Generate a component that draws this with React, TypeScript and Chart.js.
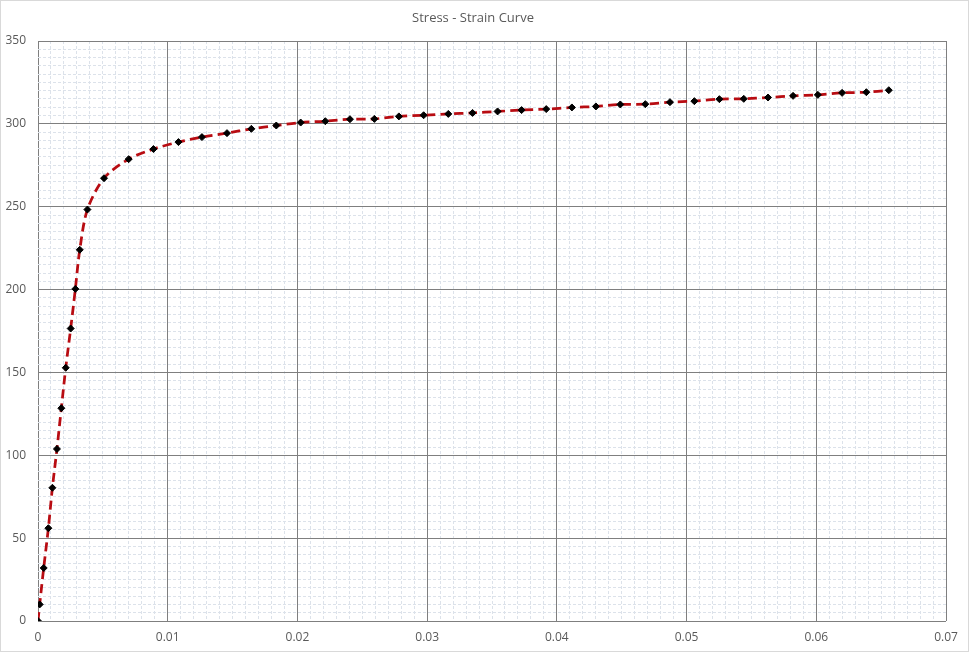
import { useEffect, useRef } from "react";
import { Chart, registerables } from "chart.js";

Chart.register(...registerables);

const chartTitle = "Stress - Strain Curve";

const strain = [
  0, 0.00013, 0.00044, 0.0008, 0.00111, 0.00146, 0.0018, 0.00214, 0.00252, 0.00288,
  0.00322, 0.00381, 0.00509, 0.00699, 0.0089, 0.01083, 0.01264, 0.01457, 0.01645, 0.01837,
  0.02025, 0.02215, 0.02405, 0.02593, 0.02782, 0.02973, 0.03163, 0.0335, 0.03543, 0.03728,
  0.03918, 0.04116, 0.04301, 0.04489, 0.04682, 0.04872, 0.0506, 0.05253, 0.05441, 0.05628,
  0.05821, 0.06012, 0.06199, 0.06386, 0.06559,
];

const stress = [
  0, 10, 32, 56, 80.4, 103.8, 128.4, 152.8, 176.5, 200.4,
  224, 248.3, 267.2, 278.7, 284.8, 289, 292, 294.4, 297, 299,
  300.8, 301.6, 302.8, 303, 304.5, 305.2, 306, 306.6, 307.5, 308.3,
  308.9, 309.9, 310.5, 311.7, 311.9, 313.1, 313.7, 314.9, 315.1, 315.9,
  316.9, 317.5, 318.7, 319.1, 320.3,
];

const xMin = 0;
const xMax = 0.07;
const xMajorStep = 0.01;
const xMinorStep = 0.001;

const yMin = 0;
const yMax = 350;
const yMajorStep = 50;
const yMinorStep = 5;

const isMajor = (v: number, step: number) => Math.abs(v / step - Math.round(v / step)) < 1e-6;

const MAJOR_GRID = "#7f7f7f";
const MINOR_GRID = "#dce2ea";
const TEXT = "#595959";
const FONT = "'Open Sans', 'Liberation Sans', sans-serif";

const frame = {
  id: "frame",
  afterDraw(chart: any) {
    const { ctx, width, height } = chart;
    ctx.save();
    ctx.strokeStyle = "#d9d9d9";
    ctx.lineWidth = 1;
    ctx.strokeRect(0.5, 0.5, width - 1, height - 1);
    ctx.restore();
  },
};

export default function App() {
  const ref = useRef<HTMLCanvasElement | null>(null);

  useEffect(() => {
    document.body.style.margin = "0";
    const points = strain.map((x, i) => ({ x, y: stress[i] }));
    const chart = new Chart(ref.current as HTMLCanvasElement, {
      type: "scatter",
      data: {
        datasets: [
          {
            data: points,
            showLine: true,
            borderColor: "#b80c12",
            borderWidth: 2.75,
            borderDash: [9, 5],
            tension: 0.3,
            pointStyle: "rectRot",
            pointRadius: 3.5,
            pointBackgroundColor: "#000000",
            pointBorderColor: "#000000",
            pointBorderWidth: 1,
          },
        ],
      },
      plugins: [frame],
      options: {
        responsive: false,
        animation: false,
        layout: { padding: { left: 0, right: 23, top: 0, bottom: 0 } },
        plugins: {
          legend: { display: false },
          tooltip: { enabled: false },
          title: {
            display: true,
            text: chartTitle,
            color: TEXT,
            font: { family: FONT, size: 13, weight: "normal", lineHeight: 1.2 },
            padding: { top: 10, bottom: 15.4 },
          },
        },
        scales: {
          x: {
            type: "linear",
            min: xMin,
            max: xMax,
            afterFit: (s: any) => {
              s.height = 31;
            },
            ticks: {
              stepSize: xMinorStep,
              autoSkip: false,
              maxTicksLimit: 1000,
              maxRotation: 0,
              minRotation: 0,
              padding: 9,
              color: TEXT,
              font: { family: FONT, size: 12 },
              callback: (v: any) => (isMajor(Number(v), xMajorStep) ? String(Number(Number(v).toFixed(2))) : ""),
            },
            grid: {
              drawTicks: false,
              color: (c: any) => (c.tick && isMajor(c.tick.value, xMajorStep) ? MAJOR_GRID : MINOR_GRID),
              lineWidth: 1,
            },
            border: {
              display: false,
              dash: (c: any) => (c.tick && !isMajor(c.tick.value, xMajorStep) ? [3, 2] : []),
            },
          },
          y: {
            type: "linear",
            min: yMin,
            max: yMax,
            afterFit: (s: any) => {
              s.width = 38;
            },
            ticks: {
              stepSize: yMinorStep,
              autoSkip: false,
              maxTicksLimit: 1000,
              padding: 12,
              color: TEXT,
              font: { family: FONT, size: 12 },
              callback: (v: any) => (isMajor(Number(v), yMajorStep) ? String(v) : ""),
            },
            grid: {
              drawTicks: false,
              color: (c: any) => (c.tick && isMajor(c.tick.value, yMajorStep) ? MAJOR_GRID : MINOR_GRID),
              lineWidth: 1,
            },
            border: {
              display: false,
              dash: (c: any) => (c.tick && !isMajor(c.tick.value, yMajorStep) ? [3, 2] : []),
            },
          },
        },
      },
    } as any);
    return () => chart.destroy();
  }, []);

  return (
    <div style={{ position: "absolute", left: 0, top: 0, width: 969, height: 652, background: "#fff" }}>
      <canvas ref={ref} width={969} height={652} />
    </div>
  );
}
